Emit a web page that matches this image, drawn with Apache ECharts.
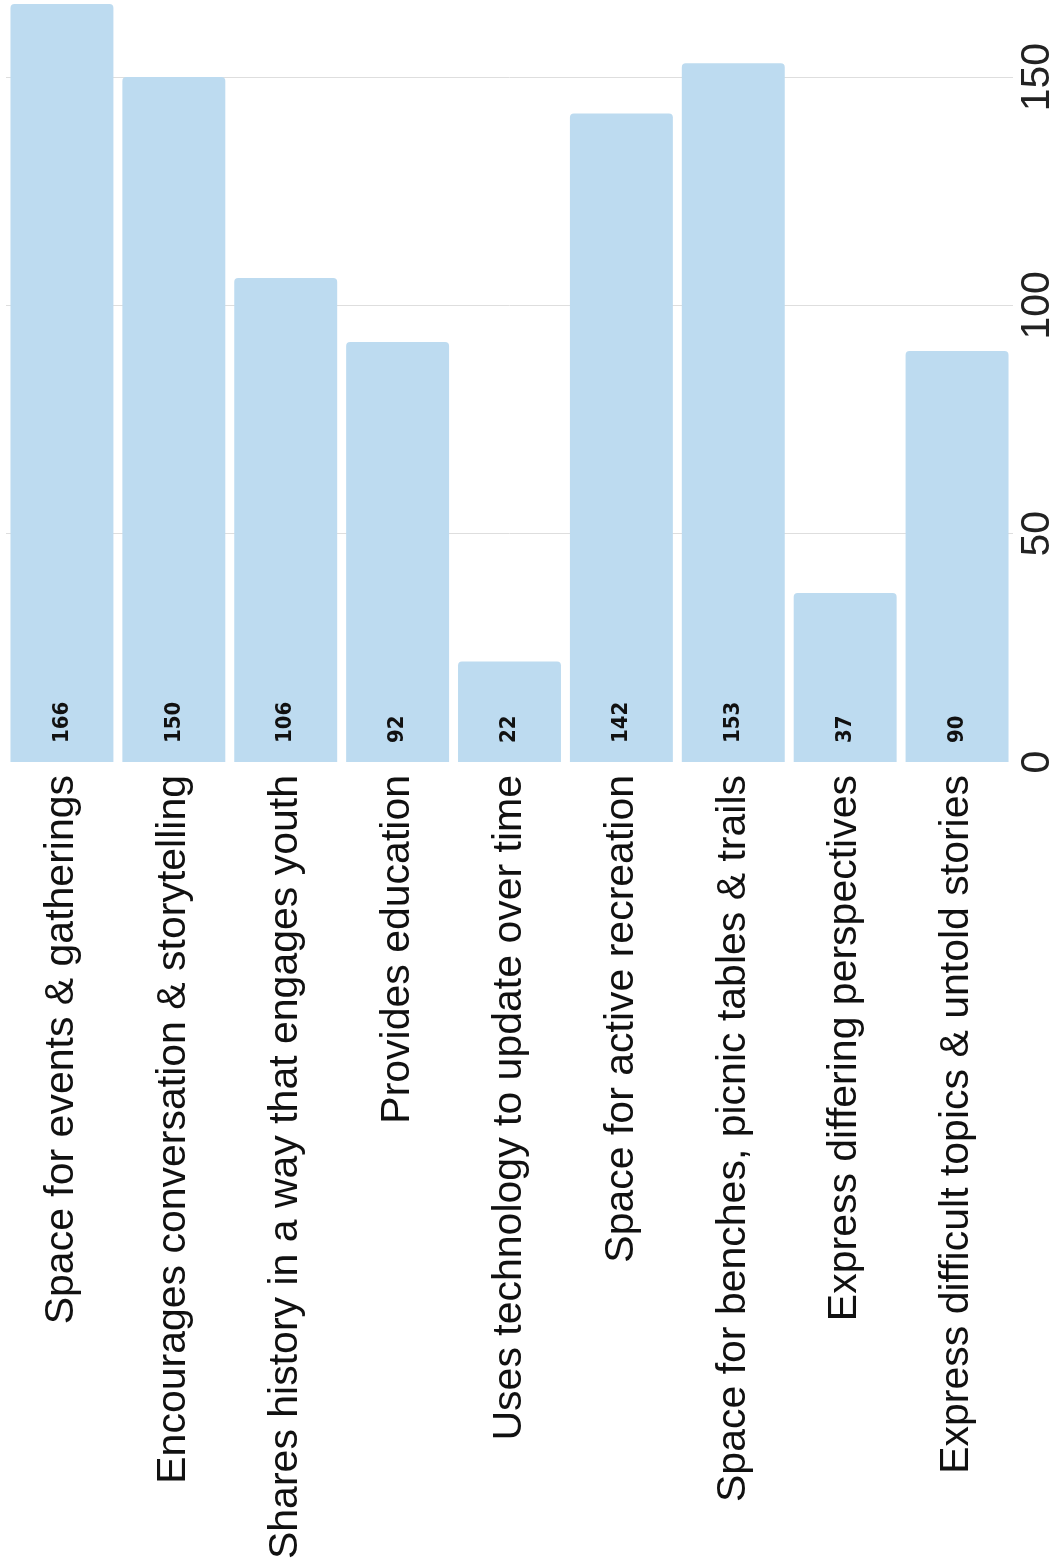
<!DOCTYPE html>
<html><head><meta charset="utf-8">
<script src="https://cdn.jsdelivr.net/npm/echarts@6/dist/echarts.min.js"></script>
<style>html,body{margin:0;padding:0;background:#fff}#c{width:1050px;height:1568px}</style>
</head><body><div id="c"></div>
<script>
const categories = [
  "Space for events & gatherings",
  "Encourages conversation & storytelling",
  "Shares history in a way that engages youth",
  "Provides education",
  "Uses technology to update over time",
  "Space for active recreation",
  "Space for benches, picnic tables & trails",
  "Express differing perspectives",
  "Express difficult topics & untold stories"
];
const counts = [166, 150, 106, 92, 22, 142, 153, 37, 90];
const valueTicks = [0, 50, 100, 150];

const chart = echarts.init(document.getElementById('c'), null, {renderer: 'canvas'});
chart.setOption({
  animation: false,
  backgroundColor: '#ffffff',
  grid: {left: 6, right: 37, top: 4, bottom: 806, containLabel: false, outerBoundsMode: 'none'},
  xAxis: {
    type: 'category',
    data: categories,
    axisLine: {show: false},
    axisTick: {show: false},
    axisLabel: {rotate: 90, margin: 13, fontSize: 41, color: '#111', fontFamily: 'Liberation Sans'}
  },
  yAxis: {
    type: 'value',
    position: 'right',
    min: 0, max: 166, interval: 50,
    axisLine: {show: false},
    axisTick: {show: false},
    axisLabel: {
      rotate: 90, margin: 4, fontSize: 41, color: '#222', fontFamily: 'Liberation Sans',
      showMaxLabel: false,
      formatter: v => valueTicks.includes(v) ? String(v) : ''
    },
    splitLine: {show: true, showMinLine: false, showMaxLine: false, lineStyle: {color: '#dedede', width: 1}}
  },
  series: [{
    type: 'bar',
    data: counts,
    barCategoryGap: '8%',
    itemStyle: {color: '#bddbf0', borderRadius: [4, 4, 0, 0]},
    label: {
      show: true, position: 'insideBottom', rotate: 90, distance: 19,
      align: 'left', verticalAlign: 'middle',
      fontSize: 22, fontWeight: 'bold', color: '#111', fontFamily: '"DejaVu Sans Condensed", "DejaVu Sans", sans-serif'
    }
  }]
});
</script></body></html>
